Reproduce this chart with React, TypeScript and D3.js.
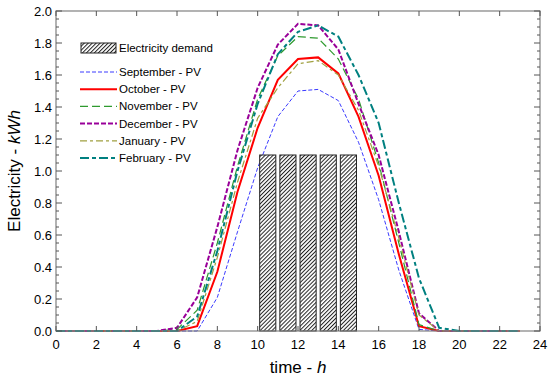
import * as d3 from 'd3'
import { useEffect, useRef } from 'react'

const hours = d3.range(0, 24)
const september = [0, 0, 0, 0, 0, 0, 0, 0, 0.21, 0.62, 1.02, 1.34, 1.50, 1.51, 1.44, 1.18, 0.82, 0.38, 0.01, 0, 0, 0, 0, 0]
const october = [0, 0, 0, 0, 0, 0, 0, 0.03, 0.37, 0.87, 1.27, 1.57, 1.70, 1.71, 1.61, 1.34, 0.97, 0.48, 0.03, 0, 0, 0, 0, 0]
const november = [0, 0, 0, 0, 0, 0, 0.01, 0.13, 0.55, 1.03, 1.45, 1.72, 1.84, 1.83, 1.70, 1.45, 1.05, 0.55, 0.04, 0, 0, 0, 0, 0]
const december = [0, 0, 0, 0, 0, 0, 0.02, 0.21, 0.65, 1.13, 1.52, 1.79, 1.92, 1.91, 1.76, 1.42, 1.10, 0.62, 0.11, 0, 0, 0, 0, 0]
const january = [0, 0, 0, 0, 0, 0, 0, 0.06, 0.46, 0.93, 1.33, 1.52, 1.67, 1.69, 1.60, 1.38, 1.03, 0.58, 0.10, 0, 0, 0, 0, 0]
const february = [0, 0, 0, 0, 0, 0, 0, 0.09, 0.50, 1.00, 1.42, 1.73, 1.87, 1.91, 1.84, 1.60, 1.30, 0.80, 0.33, 0.02, 0, 0, 0, 0]

const demandHours = [10, 11, 12, 13, 14]
const demand = [1.1, 1.1, 1.1, 1.1, 1.1]

const xTicks = [0, 2, 4, 6, 8, 10, 12, 14, 16, 18, 20, 22, 24]
const yTicks = [0, 0.2, 0.4, 0.6, 0.8, 1.0, 1.2, 1.4, 1.6, 1.8, 2.0]

const series = [
  { name: 'September - PV', values: september, color: '#3a3aff', width: 1, dash: '4,2' },
  { name: 'October - PV', values: october, color: '#ff0000', width: 2, dash: '' },
  { name: 'November - PV', values: november, color: '#2e9a2e', width: 1.2, dash: '8,4' },
  { name: 'December - PV', values: december, color: '#990099', width: 2, dash: '5,2' },
  { name: 'January - PV', values: january, color: '#a0a040', width: 1.2, dash: '7,3,3,3' },
  { name: 'February - PV', values: february, color: '#008080', width: 2, dash: '9,3,4,3' },
]

export default function App() {
  const svgRef = useRef<SVGSVGElement | null>(null)

  useEffect(() => {
    if (!svgRef.current)
      return

    const W = 550
    const H = 379
    const left = 56, right = 540, top = 11, bottom = 331

    const svg = d3.select(svgRef.current)
    svg.selectAll('*').remove()
    svg.attr('width', W).attr('height', H)

    const x = d3.scaleLinear().domain([0, 24]).range([left, right])
    const y = d3.scaleLinear().domain([0, 2]).range([bottom, top])

    // hatch pattern for the demand bars
    const defs = svg.append('defs')
    const pat = defs.append('pattern')
      .attr('id', 'hatch')
      .attr('patternUnits', 'userSpaceOnUse')
      .attr('width', 2.8)
      .attr('height', 2.8)
      .attr('patternTransform', 'rotate(45)')
    pat.append('rect').attr('width', 2.8).attr('height', 2.8).attr('fill', '#fff')
    pat.append('line')
      .attr('x1', 0).attr('y1', 0).attr('x2', 0).attr('y2', 2.8)
      .attr('stroke', '#222').attr('stroke-width', 2)

    svg.append('rect')
      .attr('width', W).attr('height', H).attr('fill', '#fff')

    // PV lines
    const line = d3.line<number>()
      .x((_, i) => x(hours[i]))
      .y(d => y(d))

    svg.append('g')
      .selectAll('path')
      .data(series)
      .enter()
      .append('path')
      .attr('d', d => line(d.values))
      .attr('fill', 'none')
      .attr('stroke', d => d.color)
      .attr('stroke-width', d => d.width)
      .attr('stroke-dasharray', d => d.dash)

    // demand bars drawn on top
    svg.append('g')
      .selectAll('rect')
      .data(demand)
      .enter()
      .append('rect')
      .attr('x', (_, i) => x(demandHours[i] + 0.1))
      .attr('y', d => y(d))
      .attr('width', x(0.8) - x(0))
      .attr('height', d => y(0) - y(d))
      .attr('fill', 'url(#hatch)')
      .attr('stroke', '#222')
      .attr('stroke-width', 1)

    // frame
    svg.append('rect')
      .attr('x', left).attr('y', top)
      .attr('width', right - left).attr('height', bottom - top)
      .attr('fill', 'none').attr('stroke', '#808080').attr('stroke-width', 1.2)

    const ticks = svg.append('g').attr('stroke', '#555').attr('stroke-width', 1)
    xTicks.forEach(t => {
      ticks.append('line').attr('x1', x(t)).attr('x2', x(t)).attr('y1', bottom).attr('y2', bottom - 5)
      ticks.append('line').attr('x1', x(t)).attr('x2', x(t)).attr('y1', top).attr('y2', top + 5)
    })
    d3.range(0, 41).forEach(k => {
      const v = k * 0.05
      const len = k % 4 === 0 ? 6 : 3
      ticks.append('line').attr('x1', left).attr('x2', left + len).attr('y1', y(v)).attr('y2', y(v))
      ticks.append('line').attr('x1', right).attr('x2', right - len).attr('y1', y(v)).attr('y2', y(v))
    })

    const font = 'Liberation Sans, Arial, sans-serif'

    svg.append('g')
      .selectAll('text')
      .data(xTicks)
      .enter()
      .append('text')
      .attr('x', d => x(d))
      .attr('y', bottom + 18)
      .attr('text-anchor', 'middle')
      .attr('font-family', font)
      .attr('font-size', 13)
      .text(d => d)

    svg.append('g')
      .selectAll('text')
      .data(yTicks)
      .enter()
      .append('text')
      .attr('x', left - 4)
      .attr('y', d => y(d) + 5)
      .attr('text-anchor', 'end')
      .attr('font-family', font)
      .attr('font-size', 13)
      .text(d => d.toFixed(1))

    const xt = svg.append('text')
      .attr('x', (left + right) / 2)
      .attr('y', 373)
      .attr('text-anchor', 'middle')
      .attr('font-family', font)
      .attr('font-size', 17)
    xt.append('tspan').text('time - ')
    xt.append('tspan').attr('font-style', 'italic').text('h')

    const yt = svg.append('text')
      .attr('transform', `translate(20,${(top + bottom) / 2}) rotate(-90)`)
      .attr('text-anchor', 'middle')
      .attr('font-family', font)
      .attr('font-size', 17)
    yt.append('tspan').text('Electricity - ')
    yt.append('tspan').attr('font-style', 'italic').text('kWh')

    // legend
    const lg = svg.append('g').attr('font-family', font).attr('font-size', 11.5)
    lg.append('rect')
      .attr('x', 81).attr('y', 43).attr('width', 35).attr('height', 10)
      .attr('fill', 'url(#hatch)').attr('stroke', '#222')
    lg.append('text').attr('x', 119).attr('y', 52).text('Electricity demand')

    series.forEach((s, i) => {
      const ly = 72 + i * 17.2
      lg.append('line')
        .attr('x1', 80).attr('x2', 117).attr('y1', ly).attr('y2', ly)
        .attr('stroke', s.color)
        .attr('stroke-width', s.width)
        .attr('stroke-dasharray', s.dash)
      lg.append('text').attr('x', 119).attr('y', ly + 4).text(s.name)
    })
  }, [])

  return (
    <svg ref={svgRef} style={{ position: 'absolute', left: 0, top: 0 }}></svg>
  )
}
